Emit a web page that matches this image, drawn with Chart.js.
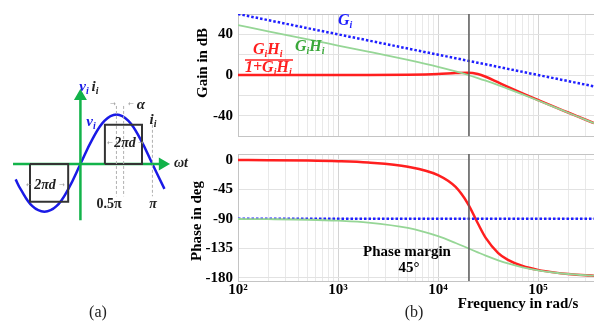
<!DOCTYPE html>
<html>
<head>
<meta charset="utf-8">
<script src="https://cdn.jsdelivr.net/npm/chart.js@4.4.0/dist/chart.umd.min.js"></script>
<style>
  body { margin: 0; background: #fff; }
  #wrap { position: relative; width: 594px; height: 329px; overflow: hidden; background: #fff; }
  canvas { position: absolute; }
</style>
</head>
<body>
<div id="wrap">
  <canvas id="waveChart" width="195" height="329" style="left:0;top:0"></canvas>
  <canvas id="gainChart" width="414" height="150" style="left:180px;top:0"></canvas>
  <canvas id="phaseChart" width="414" height="189" style="left:180px;top:140px"></canvas>
</div>
<script>
// ---- panel (b): Bode data, frequency in rad/s ----
const freq = [100, 200, 500, 1000, 2000, 5000, 10000, 15000, 20000, 25000, 30000, 40000, 50000, 70000, 100000, 150000, 200000, 300000, 363000];
const giGain = [60, 54, 46, 40, 34, 26, 20, 16.5, 14, 12, 10.5, 8, 6, 3.1, 0, -3.5, -6, -9.5, -11.2];
const loopGain = [49, 43, 35, 29, 23, 14.8, 8.1, 3.6, 0, -3, -5.6, -10, -13.6, -19.1, -25.1, -32.1, -37.1, -44.1, -47.4];
const closedGain = [0, 0, 0, 0, 0, 0.3, 1, 1.9, 2.3, 1, -1.7, -7.3, -11.7, -18.1, -24.6, -31.9, -36.9, -44, -47.3];
const loopPhase = [-90.3, -90.6, -91.4, -92.9, -95.7, -104, -116.6, -126.9, -135, -141.3, -146.3, -153.4, -158.2, -164.1, -168.7, -172.4, -174.3, -176.2, -176.9];
const closedPhase = [-0.2, -0.4, -1, -2, -4.1, -10.5, -23.2, -41.4, -67.5, -96.8, -119.1, -142.3, -152.7, -162.1, -168, -172.2, -174.2, -176.2, -176.8];
const giPhaseFreq = [100, 363000];
const giPhase = [-90, -90];
const crossFreq = 20400;

const decades = [100, 1000, 10000, 100000];
const decadeLabels = ['10\u00B2', '10\u00B3', '10\u2074', '10\u2075'];
const gainTicks = [-60, -40, -20, 0, 20, 40, 60];
const gainLabels = [40, 0, -40];
const phaseTicks = [-180, -135, -90, -45, 0];

// ---- panel (a): waveforms, x in units of pi ----
const waveX = [-0.9, -0.833, -0.667, -0.5, -0.333, -0.167, 0, 0.167, 0.333, 0.5, 0.667, 0.833, 1, 1.167];
const waveY = [-0.31, -0.5, -0.85, -0.96, -0.85, -0.5, 0, 0.5, 0.87, 1, 0.87, 0.5, 0, -0.5];
const pulseX = [-0.70, -0.70, -0.17, -0.17, -0.70, null, 0.34, 0.34, 0.855, 0.855, 0.34];
const pulseY = [0, -0.76, -0.76, 0, 0, null, 0, 0.79, 0.79, 0, 0];
const guideX = [0.5, 0.5, null, 0.6, 0.6, null, 1, 1];
const guideY = [1.17, -0.65, null, 1.17, -0.65, null, 0.79, -0.65];
const axisHX = [-0.936, 1.141];
const axisVY = [-1.135, 1.365];

const serif = '"Liberation Serif", "Times New Roman", serif';
const xMin = 100, xMax = 363000;

const pts = (xs, ys) => xs.map((x, i) => ({ x: x, y: ys[i] }));

const gridFreqs = [];
decades.forEach(d => { for (let m = 1; m <= 9; m++) if (d * m <= xMax) gridFreqs.push(d * m); });

function drawRich(ctx, x, y, parts, size, color, align, style) {
  const mainFont = `${style} ${size}px ${serif}`;
  const subFont = `${style} ${Math.round(size * 0.65)}px ${serif}`;
  let total = 0;
  const widths = parts.map(p => {
    const sub = p[0] === '_';
    ctx.font = sub ? subFont : mainFont;
    const w = ctx.measureText(sub ? p.slice(1) : p).width;
    total += w;
    return w;
  });
  let cx = align === 'center' ? x - total / 2 : align === 'right' ? x - total : x;
  ctx.fillStyle = color;
  ctx.textBaseline = 'middle';
  ctx.textAlign = 'left';
  parts.forEach((p, i) => {
    const sub = p[0] === '_';
    ctx.font = sub ? subFont : mainFont;
    ctx.fillText(sub ? p.slice(1) : p, cx, sub ? y + size * 0.3 : y);
    cx += widths[i];
  });
}

function textPlugin(items, offX, offY) {
  return {
    id: 'texts',
    afterDatasetsDraw(chart) {
      const ctx = chart.ctx;
      ctx.save();
      items.forEach(t => {
        const x = t.x - offX, y = t.y - offY;
        if (t.bar) {
          ctx.strokeStyle = t.color; ctx.lineWidth = 1.5;
          ctx.beginPath(); ctx.moveTo(x, y); ctx.lineTo(t.x2 - offX, y); ctx.stroke();
        } else if (t.rotate) {
          ctx.save(); ctx.translate(x, y); ctx.rotate(-Math.PI / 2);
          drawRich(ctx, 0, 0, t.parts, t.size, t.color, 'center', t.style);
          ctx.restore();
        } else if (t.arrow) {
          ctx.font = `${t.size}px "DejaVu Sans"`;
          ctx.fillStyle = t.color; ctx.textAlign = 'center'; ctx.textBaseline = 'middle';
          ctx.fillText(t.arrow, x, y);
        } else {
          drawRich(ctx, x, y, t.parts, t.size, t.color, t.align || 'left', t.style);
        }
      });
      ctx.restore();
    }
  };
}

const frame = {
  id: 'frame',
  beforeDatasetsDraw(chart) {
    const a = chart.chartArea, ctx = chart.ctx;
    ctx.save();
    ctx.strokeStyle = '#c4c4c4'; ctx.lineWidth = 1;
    ctx.strokeRect(a.left + 0.5, a.top + 0.5, a.right - a.left, a.bottom - a.top);
    ctx.restore();
  }
};

const base = {
  responsive: false, animation: false, devicePixelRatio: 1,
  plugins: { legend: { display: false }, tooltip: { enabled: false } },
  elements: { point: { radius: 0 } }
};

const tickFont = { family: serif, size: 15, weight: 'bold' };

function freqAxis(showLabels) {
  return {
    type: 'logarithmic', min: xMin, max: xMax,
    afterBuildTicks: s => { s.ticks = gridFreqs.map(v => ({ value: v })); },
    ticks: {
      display: showLabels, autoSkip: false, maxRotation: 0, padding: 0, color: '#000', font: tickFont,
      callback: v => { const k = decades.indexOf(v); return k >= 0 ? decadeLabels[k] : ''; }
    },
    grid: { drawTicks: false, color: c => decades.includes(c.tick && c.tick.value) ? '#d4d4d4' : '#e9e9e9' },
    border: { display: false },
    afterFit: s => { s.height = showLabels ? 48 : 0; }
  };
}

const red = '#ff1f1f', blue = '#1f1fff', lightGreen = '#96d696', darkLine = '#5a5a5a';

// gain plot
new Chart(document.getElementById('gainChart'), {
  type: 'line',
  data: { datasets: [
    { data: pts([crossFreq, crossFreq], [60, -60]), borderColor: darkLine, borderWidth: 1.5 },
    { data: pts(freq, loopGain), borderColor: lightGreen, borderWidth: 1.8, cubicInterpolationMode: 'monotone' },
    { data: pts(freq, giGain), borderColor: blue, borderWidth: 2.5, borderDash: [2.5, 2] },
    { data: pts(freq, closedGain), borderColor: red, borderWidth: 2.5, cubicInterpolationMode: 'monotone' }
  ]},
  options: Object.assign({}, base, {
    layout: { padding: { left: 0, right: 0, top: 5, bottom: 2 } },
    scales: {
      x: freqAxis(false),
      y: {
        min: -60, max: 60,
        afterBuildTicks: s => { s.ticks = gainTicks.map(v => ({ value: v })); },
        ticks: { padding: 5, color: '#000', font: tickFont, callback: v => gainLabels.includes(v) ? String(v) : '' },
        grid: { drawTicks: false, color: '#e2e2e2' },
        border: { display: false },
        afterFit: s => { s.width = 58; }
      }
    }
  }),
  plugins: [frame, textPlugin([
    { x: 203, y: 63, rotate: true, parts: ['Gain in dB'], size: 15, color: '#000', style: 'bold' },
    { x: 338, y: 21, parts: ['G', '_i'], size: 16, color: blue, style: 'bold italic' },
    { x: 295, y: 47, parts: ['G', '_i', 'H', '_i'], size: 16, color: '#3aa83a', style: 'bold italic' },
    { x: 253, y: 50, parts: ['G', '_i', 'H', '_i'], size: 16, color: red, style: 'bold italic' },
    { bar: true, x: 245, x2: 293, y: 60, color: red },
    { x: 245, y: 68, parts: ['1+G', '_i', 'H', '_i'], size: 16, color: red, style: 'bold italic' }
  ], 180, 0)]
});

// phase plot
new Chart(document.getElementById('phaseChart'), {
  type: 'line',
  data: { datasets: [
    { data: pts([crossFreq, crossFreq], [9, -185]), borderColor: darkLine, borderWidth: 1.5 },
    { data: pts(freq, loopPhase), borderColor: lightGreen, borderWidth: 1.8, cubicInterpolationMode: 'monotone' },
    { data: pts(giPhaseFreq, giPhase), borderColor: blue, borderWidth: 2.5, borderDash: [2.5, 2] },
    { data: pts(freq, closedPhase), borderColor: red, borderWidth: 2.5, cubicInterpolationMode: 'monotone' }
  ]},
  options: Object.assign({}, base, {
    layout: { padding: { left: 0, right: 0, top: 8, bottom: 0 } },
    scales: {
      x: freqAxis(true),
      y: {
        min: -185, max: 9,
        afterBuildTicks: s => { s.ticks = phaseTicks.map(v => ({ value: v })); },
        ticks: { padding: 5, color: '#000', font: tickFont, callback: v => String(v) },
        grid: { drawTicks: false, color: '#e2e2e2' },
        border: { display: false },
        afterFit: s => { s.width = 58; }
      }
    }
  }),
  plugins: [frame, textPlugin([
    { x: 197, y: 221, rotate: true, parts: ['Phase in deg'], size: 15, color: '#000', style: 'bold' },
    { x: 407, y: 252, align: 'center', parts: ['Phase margin'], size: 15, color: '#000', style: 'bold' },
    { x: 409, y: 268, align: 'center', parts: ['45\u00B0'], size: 15, color: '#000', style: 'bold' },
    { x: 518, y: 304, align: 'center', parts: ['Frequency in rad/s'], size: 15, color: '#000', style: 'bold' },
    { x: 414, y: 313, align: 'center', parts: ['(b)'], size: 16, color: '#222', style: 'normal' }
  ], 180, 140)]
});

// panel (a)
const green = '#12b34a', waveBlue = '#1a1ae6';
new Chart(document.getElementById('waveChart'), {
  type: 'line',
  data: { datasets: [
    { data: pts(guideX, guideY), borderColor: '#b0b0b0', borderWidth: 1, borderDash: [3, 2] },
    { data: pts(pulseX, pulseY), borderColor: '#333', borderWidth: 2 },
    { data: pts(axisHX, [0, 0]), borderColor: green, borderWidth: 2.5,
      pointStyle: 'triangle', rotation: 90, pointRadius: c => c.dataIndex === 1 ? 5 : 0,
      pointBackgroundColor: green, pointBorderColor: green },
    { data: pts([0, 0], axisVY), borderColor: green, borderWidth: 2.5,
      pointStyle: 'triangle', rotation: 0, pointRadius: c => c.dataIndex === 1 ? 5 : 0,
      pointBackgroundColor: green, pointBorderColor: green },
    { data: pts(waveX, waveY), borderColor: waveBlue, borderWidth: 2.5, tension: 0.4 }
  ]},
  options: Object.assign({}, base, {
    layout: { padding: 0 },
    scales: {
      x: { type: 'linear', display: false, min: -79 / 78, max: (195 - 79) / 78 },
      y: { display: false, min: -(329 - 164) / 52, max: 164 / 52 }
    }
  }),
  plugins: [textPlugin([
    { x: 84, y: 87, align: 'center', parts: ['v', '_i'], size: 15, color: waveBlue, style: 'bold italic' },
    { x: 95, y: 87, align: 'center', parts: ['i', '_i'], size: 15, color: '#222', style: 'bold italic' },
    { x: 91, y: 122, align: 'center', parts: ['v', '_i'], size: 15, color: waveBlue, style: 'bold italic' },
    { x: 153, y: 120, align: 'center', parts: ['i', '_i'], size: 15, color: '#222', style: 'bold italic' },
    { x: 141, y: 105, align: 'center', parts: ['\u03B1'], size: 15, color: '#222', style: 'bold italic' },
    { x: 113, y: 104, arrow: '\u2192', size: 7, color: '#999' },
    { x: 131, y: 104, arrow: '\u2190', size: 7, color: '#999' },
    { x: 125, y: 143, align: 'center', parts: ['2\u03C0d'], size: 14, color: '#222', style: 'bold italic' },
    { x: 110, y: 143, arrow: '\u2190', size: 7, color: '#999' },
    { x: 141, y: 143, arrow: '\u2192', size: 7, color: '#999' },
    { x: 45, y: 185, align: 'center', parts: ['2\u03C0d'], size: 14, color: '#222', style: 'bold italic' },
    { x: 29, y: 185, arrow: '\u2190', size: 7, color: '#999' },
    { x: 62, y: 185, arrow: '\u2192', size: 7, color: '#999' },
    { x: 109, y: 204, align: 'center', parts: ['0.5\u03C0'], size: 14, color: '#222', style: 'bold' },
    { x: 153, y: 204, align: 'center', parts: ['\u03C0'], size: 14, color: '#222', style: 'bold italic' },
    { x: 181, y: 163, align: 'center', parts: ['\u03C9t'], size: 14, color: '#222', style: 'bold italic' },
    { x: 98, y: 313, align: 'center', parts: ['(a)'], size: 16, color: '#222', style: 'normal' }
  ], 0, 0)]
});
</script>
</body>
</html>
